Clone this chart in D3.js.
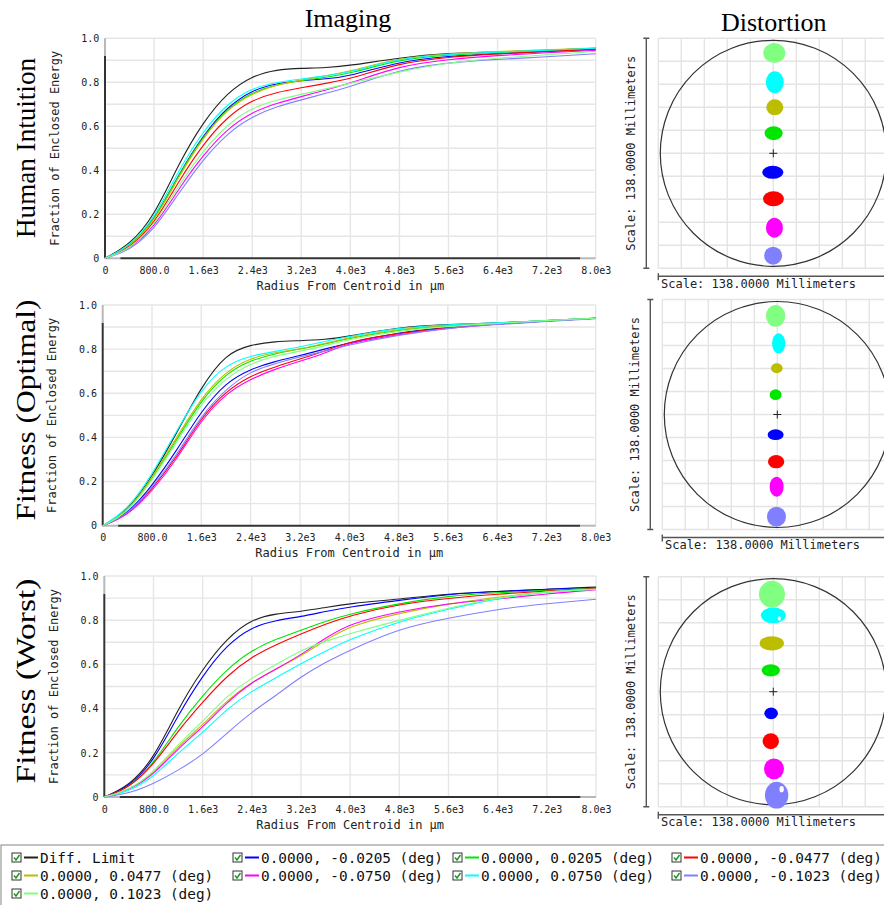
<!DOCTYPE html>
<html>
<head>
<meta charset="utf-8">
<script src="https://cdn.jsdelivr.net/npm/d3@7"></script>
<style>
  body { margin: 0; background: #fff; }
  svg { display: block; }
</style>
</head>
<body>
<svg id="chart" width="884" height="905"></svg>
<script>
// ---- data ----
const radiusKnots = [0, 400, 800, 1200, 1600, 2000, 2400, 2800, 3200, 3600, 4000, 4800, 5600, 6400, 7200, 8000];

const xTickValues = [0, 800, 1600, 2400, 3200, 4000, 4800, 5600, 6400, 7200, 8000];
const xTickLabels = ["0", "800.0", "1.6e3", "2.4e3", "3.2e3", "4.0e3", "4.8e3", "5.6e3", "6.4e3", "7.2e3", "8.0e3"];
const yTickValues = [0, 0.2, 0.4, 0.6, 0.8, 1.0];
const yTickLabels = ["0", "0.2", "0.4", "0.6", "0.8", "1.0"];

const rowNames = ["Human Intuition", "Fitness (Optimal)", "Fitness (Worst)"];

const seriesLabels = [
  "Diff. Limit",
  "0.0000, -0.0205 (deg)", "0.0000, 0.0205 (deg)",
  "0.0000, -0.0477 (deg)", "0.0000, 0.0477 (deg)",
  "0.0000, -0.0750 (deg)", "0.0000, 0.0750 (deg)",
  "0.0000, -0.1023 (deg)", "0.0000, 0.1023 (deg)"
];
const seriesColors = ["#222222", "#0000ff", "#00e600", "#ff0000", "#bdbd00", "#ff00ff", "#00ffff", "#8080ff", "#80ff80"];

// fraction of enclosed energy, one list per series (same order as seriesLabels)
const eeHuman = [
  [0, 0.06, 0.19, 0.43, 0.62, 0.755, 0.83, 0.858, 0.864, 0.866, 0.876, 0.912, 0.933, 0.937, 0.946, 0.955],
  [0, 0.05, 0.17, 0.38, 0.56, 0.69, 0.765, 0.795, 0.808, 0.815, 0.828, 0.895, 0.92, 0.93, 0.94, 0.95],
  [0, 0.05, 0.17, 0.38, 0.555, 0.685, 0.755, 0.79, 0.808, 0.822, 0.84, 0.905, 0.925, 0.935, 0.945, 0.952],
  [0, 0.045, 0.155, 0.35, 0.52, 0.645, 0.72, 0.755, 0.775, 0.795, 0.815, 0.888, 0.915, 0.93, 0.94, 0.95],
  [0, 0.05, 0.165, 0.37, 0.55, 0.68, 0.75, 0.79, 0.81, 0.83, 0.85, 0.912, 0.93, 0.94, 0.948, 0.956],
  [0, 0.04, 0.14, 0.315, 0.47, 0.59, 0.665, 0.705, 0.735, 0.765, 0.795, 0.875, 0.905, 0.922, 0.935, 0.945],
  [0, 0.055, 0.18, 0.40, 0.58, 0.705, 0.775, 0.80, 0.815, 0.83, 0.845, 0.91, 0.928, 0.937, 0.946, 0.955],
  [0, 0.035, 0.13, 0.295, 0.45, 0.57, 0.645, 0.69, 0.72, 0.75, 0.78, 0.858, 0.89, 0.905, 0.915, 0.93],
  [0, 0.04, 0.15, 0.33, 0.49, 0.61, 0.685, 0.72, 0.745, 0.77, 0.795, 0.848, 0.89, 0.91, 0.925, 0.94]
];
const eeOptimal = [
  [0, 0.065, 0.22, 0.42, 0.63, 0.78, 0.82, 0.835, 0.838, 0.843, 0.858, 0.90, 0.912, 0.918, 0.93, 0.94],
  [0, 0.05, 0.18, 0.34, 0.52, 0.65, 0.71, 0.745, 0.77, 0.80, 0.83, 0.876, 0.90, 0.915, 0.928, 0.94],
  [0, 0.058, 0.21, 0.39, 0.57, 0.69, 0.75, 0.78, 0.80, 0.822, 0.85, 0.888, 0.906, 0.917, 0.93, 0.94],
  [0, 0.046, 0.165, 0.31, 0.49, 0.61, 0.68, 0.72, 0.755, 0.79, 0.835, 0.872, 0.898, 0.914, 0.928, 0.94],
  [0, 0.06, 0.215, 0.40, 0.58, 0.70, 0.76, 0.785, 0.80, 0.825, 0.853, 0.892, 0.908, 0.917, 0.93, 0.94],
  [0, 0.044, 0.155, 0.30, 0.48, 0.60, 0.665, 0.71, 0.745, 0.78, 0.83, 0.866, 0.895, 0.913, 0.928, 0.94],
  [0, 0.07, 0.23, 0.43, 0.62, 0.73, 0.77, 0.79, 0.81, 0.835, 0.858, 0.897, 0.912, 0.918, 0.93, 0.94],
  [0, 0.048, 0.17, 0.32, 0.50, 0.62, 0.70, 0.735, 0.765, 0.79, 0.82, 0.865, 0.895, 0.912, 0.926, 0.938],
  [0, 0.055, 0.205, 0.38, 0.555, 0.67, 0.735, 0.77, 0.79, 0.815, 0.845, 0.883, 0.903, 0.916, 0.93, 0.94]
];
const eeWorst = [
  [0, 0.05, 0.17, 0.40, 0.58, 0.72, 0.805, 0.83, 0.839, 0.858, 0.876, 0.895, 0.92, 0.93, 0.94, 0.95],
  [0, 0.045, 0.16, 0.37, 0.55, 0.69, 0.77, 0.80, 0.816, 0.84, 0.861, 0.89, 0.918, 0.93, 0.94, 0.948],
  [0, 0.04, 0.15, 0.32, 0.46, 0.58, 0.665, 0.715, 0.755, 0.795, 0.83, 0.876, 0.91, 0.925, 0.935, 0.945],
  [0, 0.04, 0.145, 0.30, 0.43, 0.55, 0.635, 0.69, 0.738, 0.782, 0.822, 0.873, 0.90, 0.918, 0.933, 0.943],
  [0, 0.03, 0.105, 0.23, 0.325, 0.44, 0.52, 0.58, 0.638, 0.71, 0.775, 0.832, 0.875, 0.905, 0.93, 0.94],
  [0, 0.03, 0.10, 0.22, 0.315, 0.43, 0.52, 0.58, 0.643, 0.72, 0.786, 0.84, 0.876, 0.895, 0.92, 0.938],
  [0, 0.025, 0.09, 0.20, 0.29, 0.40, 0.48, 0.54, 0.605, 0.66, 0.715, 0.795, 0.85, 0.90, 0.93, 0.94],
  [0, 0.015, 0.06, 0.12, 0.19, 0.29, 0.385, 0.46, 0.545, 0.61, 0.665, 0.763, 0.81, 0.85, 0.875, 0.895],
  [0, 0.03, 0.11, 0.24, 0.34, 0.46, 0.54, 0.60, 0.665, 0.705, 0.74, 0.80, 0.855, 0.903, 0.93, 0.94]
];

// distortion spots in mm: [x, y, width, height], series 1..8
const scaleMm = 138;
const fieldCircleMm = 67.8;
const spotsHuman = [
  [-0.3, -11.4, 12.6, 7.8], [0.2, 12.1, 10.8, 8.4], [0.1, -27.3, 12.6, 9.0], [0.9, 27.6, 10.2, 9.6],
  [0.7, -44.7, 10.2, 12.0], [0.9, 42.6, 10.8, 13.2], [-0.1, -61.4, 10.8, 10.8], [0.6, 60.2, 13.2, 12.0]
];
const spotsOptimal = [
  [-1.0, -12.1, 9.6, 6.4], [-1.0, 11.9, 7.2, 6.4], [-0.7, -28.3, 9.8, 8.0], [-0.3, 27.7, 7.0, 6.0],
  [-0.4, -43.3, 8.4, 12.0], [0.8, 42.7, 8.0, 12.0], [-0.5, -61.3, 11.4, 12.0], [-1.0, 59.2, 11.6, 13.0]
];
const spotsWorst = [
  [-1.3, -13.0, 8.2, 7.0], [-1.5, 12.8, 11.0, 7.4], [-1.5, -29.7, 9.8, 9.6], [-0.9, 29.0, 14.6, 8.6],
  [0.4, -46.3, 12.0, 12.4], [0.0, 45.8, 15.0, 9.4], [2.0, -62.1, 14.0, 16.0], [-0.8, 58.5, 15.6, 16.0]
];
// open rings inside some spots: [x, y, width, height]
const holesWorst = [[3.6, 43.9, 1.8, 2.6], [5.0, -58.5, 2.6, 3.8]];

// ---- layout ----
const svg = d3.select("#chart");
const mono = "DejaVu Sans Mono";
const serif = "Liberation Serif";

const plotBoxes = [
  { x0: 105, x1: 595.7, y0: 38.3, y1: 258.3, labelY: 148, labelLen: 180 },
  { x0: 102.7, x1: 595.7, y0: 305, y1: 525.7, labelY: 410, labelLen: 221 },
  { x0: 104.3, x1: 596, y0: 576, y1: 797, labelY: 681, labelLen: 205 }
];
const distBoxes = [
  { left: 658.3, top: 38.3 },
  { left: 662.3, top: 299.5 },
  { left: 658.3, top: 576.7 }
];
const eeRows = [eeHuman, eeOptimal, eeWorst];
const spotRows = [spotsHuman, spotsOptimal, spotsWorst];
const holeRows = [[], [], holesWorst];

svg.append("text")
  .attr("x", 348).attr("y", 26.7)
  .attr("text-anchor", "middle")
  .attr("font-family", serif).attr("font-size", 26)
  .text("Imaging");

svg.append("text")
  .attr("x", 773.7).attr("y", 30.7)
  .attr("text-anchor", "middle")
  .attr("font-family", serif).attr("font-size", 26)
  .text("Distortion");

const drawImaging = (r) => {
  const box = plotBoxes[r];
  const x = d3.scaleLinear().domain([0, 8000]).range([box.x0, box.x1]);
  const y = d3.scaleLinear().domain([0, 1]).range([box.y1, box.y0]);
  const g = svg.append("g");

  // row label
  g.append("text")
    .attr("transform", "translate(35," + box.labelY + ") rotate(-90)")
    .attr("text-anchor", "middle")
    .attr("font-family", serif).attr("font-size", 27)
    .attr("textLength", box.labelLen).attr("lengthAdjust", "spacingAndGlyphs")
    .text(rowNames[r]);

  // grid
  g.selectAll(".vgrid")
    .data(xTickValues.slice(1))
    .enter()
    .append("line")
    .attr("x1", (d) => x(d)).attr("x2", (d) => x(d))
    .attr("y1", y(0)).attr("y2", y(1))
    .attr("stroke", "#e6e6e6").attr("stroke-width", 1.4);

  g.selectAll(".hgrid")
    .data(y.ticks(10).slice(1))
    .enter()
    .append("line")
    .attr("x1", x(0)).attr("x2", x(8000))
    .attr("y1", (d) => y(d)).attr("y2", (d) => y(d))
    .attr("stroke", "#e6e6e6").attr("stroke-width", 1.4);

  // axis lines (dark middle, grey ends like the original)
  const axisSegs = [
    [x(0), y(0), x(0), y(0.92), "#333"],
    [x(0), y(0.92), x(0), y(1), "#b8b8b8"],
    [x(0), y(0), x(250), y(0), "#b8b8b8"],
    [x(250), y(0), x(7750), y(0), "#333"],
    [x(7750), y(0), x(8000), y(0), "#b8b8b8"]
  ];
  g.selectAll(".axisline")
    .data(axisSegs)
    .enter()
    .append("line")
    .attr("x1", (d) => d[0]).attr("y1", (d) => d[1])
    .attr("x2", (d) => d[2]).attr("y2", (d) => d[3])
    .attr("stroke", (d) => d[4]).attr("stroke-width", 2);

  // curves
  const line = d3.line()
    .x((d, i) => x(radiusKnots[i]))
    .y((d) => y(d))
    .curve(d3.curveBasis);

  g.selectAll(".curve")
    .data(eeRows[r])
    .enter()
    .append("path")
    .attr("d", (d) => line(d))
    .attr("fill", "none")
    .attr("stroke", (d, i) => seriesColors[i])
    .attr("stroke-width", 1.1);

  // tick labels
  const xAxis = d3.axisBottom(x)
    .tickValues(xTickValues)
    .tickFormat((d, i) => xTickLabels[i])
    .tickSize(0).tickPadding(8.6);
  const xa = g.append("g")
    .attr("transform", "translate(0," + y(0) + ")")
    .call(xAxis);
  xa.select(".domain").remove();
  xa.selectAll("text").attr("font-family", mono).attr("font-size", 10).attr("fill", "#222");

  const yAxis = d3.axisLeft(y)
    .tickValues(yTickValues)
    .tickFormat((d, i) => yTickLabels[i])
    .tickSize(0).tickPadding(5.7);
  const ya = g.append("g")
    .attr("transform", "translate(" + x(0) + ",0)")
    .call(yAxis);
  ya.select(".domain").remove();
  ya.selectAll("text").attr("font-family", mono).attr("font-size", 10).attr("fill", "#222");

  // axis titles
  g.append("text")
    .attr("x", (x(0) + x(8000)) / 2).attr("y", y(0) + 31.7)
    .attr("text-anchor", "middle")
    .attr("font-family", mono).attr("font-size", 12).attr("fill", "#222")
    .text("Radius From Centroid in \u00b5m");

  g.append("text")
    .attr("transform", "translate(" + (x(0) - 46.5) + "," + (y(0) + y(1)) / 2 + ") rotate(-90)")
    .attr("text-anchor", "middle")
    .attr("font-family", mono).attr("font-size", 12).attr("fill", "#222")
    .text("Fraction of Enclosed Energy");
};

const drawDistortion = (r) => {
  const box = distBoxes[r];
  const size = 230;
  const half = scaleMm / 2;
  const sx = d3.scaleLinear().domain([-half, half]).range([box.left, box.left + size]);
  const sy = d3.scaleLinear().domain([-half, half]).range([box.top + size, box.top]);
  const g = svg.append("g");
  const gridMm = d3.range(0, 11).map((k) => -half + (k * scaleMm) / 10);

  g.selectAll(".dv")
    .data(gridMm)
    .enter()
    .append("line")
    .attr("x1", (d) => sx(d)).attr("x2", (d) => sx(d))
    .attr("y1", sy(-half)).attr("y2", sy(half))
    .attr("stroke", "#e4e4e4").attr("stroke-width", 1.4);

  g.selectAll(".dh")
    .data(gridMm)
    .enter()
    .append("line")
    .attr("x1", sx(-half)).attr("x2", sx(half))
    .attr("y1", (d) => sy(d)).attr("y2", (d) => sy(d))
    .attr("stroke", "#e4e4e4").attr("stroke-width", 1.4);

  g.append("circle")
    .attr("cx", sx(0)).attr("cy", sy(0))
    .attr("r", sx(fieldCircleMm) - sx(0))
    .attr("fill", "none").attr("stroke", "#333").attr("stroke-width", 1.2);

  g.selectAll(".spot")
    .data(spotRows[r])
    .enter()
    .append("ellipse")
    .attr("cx", (d) => sx(d[0])).attr("cy", (d) => sy(d[1]))
    .attr("rx", (d) => (sx(d[2]) - sx(0)) / 2)
    .attr("ry", (d) => (sx(d[3]) - sx(0)) / 2)
    .attr("fill", (d, i) => seriesColors[i + 1]);

  g.selectAll(".hole")
    .data(holeRows[r])
    .enter()
    .append("ellipse")
    .attr("cx", (d) => sx(d[0])).attr("cy", (d) => sy(d[1]))
    .attr("rx", (d) => (sx(d[2]) - sx(0)) / 2)
    .attr("ry", (d) => (sx(d[3]) - sx(0)) / 2)
    .attr("fill", "#fff");

  // centre cross
  g.append("path")
    .attr("d", "M" + (sx(0) - 4) + "," + sy(0) + "H" + (sx(0) + 4) + "M" + sx(0) + "," + (sy(0) - 4) + "V" + (sy(0) + 4))
    .attr("stroke", "#222").attr("stroke-width", 1);

  const scaleText = "Scale: " + scaleMm.toFixed(4) + " Millimeters";

  // vertical scale bar
  const bx = box.left - 12;
  g.append("path")
    .attr("d", "M" + bx + "," + sy(half) + "V" + sy(-half) +
      "M" + (bx - 3) + "," + sy(half) + "H" + (bx + 3) +
      "M" + (bx - 3) + "," + sy(-half) + "H" + (bx + 3))
    .attr("stroke", "#555").attr("stroke-width", 1.4).attr("fill", "none");
  g.append("text")
    .attr("transform", "translate(" + (box.left - 23) + "," + sy(0) + ") rotate(-90)")
    .attr("text-anchor", "middle")
    .attr("font-family", mono).attr("font-size", 12).attr("fill", "#222")
    .text(scaleText);

  // horizontal scale bar
  const by = sy(-half) + 8;
  g.append("path")
    .attr("d", "M" + box.left + "," + by + "H884M" + box.left + "," + (by - 3) + "V" + (by + 4))
    .attr("stroke", "#555").attr("stroke-width", 1.4).attr("fill", "none");
  g.append("text")
    .attr("x", box.left + 2.7).attr("y", by + 11.3)
    .attr("font-family", mono).attr("font-size", 12).attr("fill", "#222")
    .text(scaleText);
};

[0, 1, 2].forEach((r) => {
  drawImaging(r);
  drawDistortion(r);
});

// ---- legend ----
const legendCols = [12, 233, 453, 672];
const legendRows = [857.5, 875.5, 893.5];

svg.append("rect")
  .attr("x", 1).attr("y", 845)
  .attr("width", 890).attr("height", 70)
  .attr("fill", "none").attr("stroke", "#999").attr("stroke-width", 1.2);

const item = svg.selectAll(".legend")
  .data(seriesLabels)
  .enter()
  .append("g")
  .attr("transform", (d, i) => "translate(" + legendCols[i % 4] + "," + legendRows[Math.floor(i / 4)] + ")");

item.append("rect")
  .attr("x", 0).attr("y", -4.5)
  .attr("width", 9).attr("height", 9)
  .attr("fill", "#fff").attr("stroke", "#333").attr("stroke-width", 1);

item.append("path")
  .attr("d", "M2,0 L4,2.5 L7.5,-2.5")
  .attr("fill", "none").attr("stroke", "#1a9a1a").attr("stroke-width", 1.5);

item.append("line")
  .attr("x1", 12).attr("x2", 26)
  .attr("y1", 0).attr("y2", 0)
  .attr("stroke", (d, i) => seriesColors[i]).attr("stroke-width", 2);

item.append("text")
  .attr("x", 28).attr("y", 5)
  .attr("font-family", mono).attr("font-size", 14.4).attr("fill", "#111")
  .text((d) => d);
</script>
</body>
</html>
